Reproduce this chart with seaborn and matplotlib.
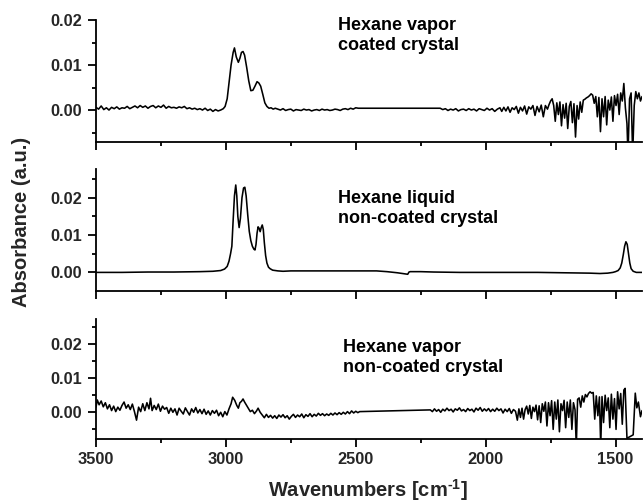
import numpy as np
import pandas as pd
import matplotlib
matplotlib.use("Agg")
import matplotlib.pyplot as plt
from matplotlib.ticker import MultipleLocator, FormatStrFormatter
from matplotlib.transforms import blended_transform_factory
import seaborn as sns

# ---------------- data (absorbance values in units of 1e-3) ----------------
# Panel 1: Hexane vapor, coated crystal
wn_vapor_coated = [
    3500, 3490, 3480, 3470, 3460, 3450, 3440, 3430, 3420, 3410,
    3400, 3390, 3380, 3370, 3360, 3350, 3340, 3330, 3320, 3310,
    3300, 3290, 3280, 3270, 3260, 3250, 3240, 3230, 3220, 3210,
    3200, 3190, 3180, 3170, 3160, 3150, 3140, 3130, 3120, 3110,
    3100, 3090, 3080, 3070, 3060, 3050, 3040, 3030, 3020, 3010,
    3003, 2995, 2988, 2980, 2972, 2967, 2960, 2952, 2946, 2940,
    2934, 2928, 2920, 2912, 2904, 2896, 2888, 2880, 2873, 2866,
    2858, 2850, 2842, 2834, 2826, 2818, 2810,
    2800, 2790, 2780, 2770, 2760, 2750, 2740, 2730, 2720, 2710,
    2700, 2690, 2680, 2670, 2660, 2650, 2640, 2630, 2620, 2610,
    2600, 2590, 2580, 2570, 2560, 2550, 2540, 2530, 2520, 2510,
    2500, 2490, 2483, 2175,
    2165, 2155, 2145, 2135, 2125, 2115, 2105, 2095, 2085, 2075,
    2065, 2055, 2045, 2035, 2025, 2015, 2005, 1995, 1985, 1975,
    1965, 1955, 1945,
    1938, 1930, 1922, 1914, 1906, 1898, 1890, 1882, 1874, 1866,
    1858, 1850, 1842, 1834, 1826, 1818, 1810, 1802, 1794, 1786,
    1778, 1770, 1762,
    1756, 1750, 1744, 1738, 1732, 1726, 1720, 1714, 1708, 1702,
    1696, 1690, 1684, 1678, 1672, 1666, 1660, 1654, 1648, 1642,
    1636, 1630, 1624, 1618, 1612, 1606, 1600, 1594, 1588, 1582,
    1576, 1570, 1564, 1558, 1552, 1546, 1540, 1534, 1528, 1522,
    1516, 1510, 1504, 1498, 1492, 1486, 1480, 1474, 1468, 1462,
    1456, 1452, 1446, 1440, 1434, 1428, 1422, 1416, 1410, 1404,
    1398,
]
abs_vapor_coated = [
    0.6, 0.2, 0.9, 0.1, 0.5, 0.0, 0.6, 0.3, 0.7, 0.2,
    0.5, 0.4, 0.8, 0.3, 0.6, 0.9, 0.5, 1.0, 0.6, 0.9,
    0.4, 0.8, 1.0, 0.5, 0.9, 0.6, 1.1, 0.4, 0.8, 0.5,
    0.6, 0.4, 0.7, 0.5, 0.8, 0.3, 0.5, 0.2, 0.4, 0.1,
    0.3, 0.0, 0.4, -0.1, 0.2, -0.3, 0.1, -0.2, 0.0, 0.3,
    0.8, 2.5, 6.0, 10.0, 12.8, 13.8, 11.8, 10.6, 11.5, 12.8,
    13.0, 12.2, 9.5, 6.5, 4.3, 4.4, 5.3, 6.3, 6.0, 5.3,
    3.5, 1.6, 0.8, 0.4, 0.5, 0.2, 0.4,
    0.2, 0.0, 0.3, -0.1, 0.1, 0.2, -0.2, 0.1, 0.0, -0.1,
    0.2, 0.0, 0.1, -0.2, 0.0, 0.1, -0.1, 0.2, 0.0, 0.1,
    -0.1, 0.0, 0.2, 0.1, -0.1, 0.2, 0.3, 0.1, 0.4, 0.2,
    0.5, 0.4, 0.4, 0.4,
    0.1, 0.3, -0.1, 0.2, 0.0, 0.3, -0.2, 0.1, 0.2, -0.1,
    0.3, 0.0, 0.2, -0.2, 0.3, 0.1, -0.1, 0.4, 0.0, 0.3,
    -0.3, 0.2, 0.5,
    -0.3, 0.6, -0.2, 0.7, -0.5, 0.5, 0.1, 0.8, -0.7, 0.6,
    -0.2, 0.9, -0.9, 0.7, 0.2, 1.0, -1.2, 0.8, -0.4, 1.1,
    -1.5, 1.0, 0.2,
    1.2, 2.0, 2.5, 1.0, -2.5, 1.6, -1.0, 1.8, -3.5, 1.2,
    -1.8, 1.5, -4.1, 0.8, 1.9, -2.8, 1.4, -6.0, 1.0, -2.0,
    1.8, -0.5, 2.2, 2.4, 2.7, 2.9, 3.2, 3.6, 3.3, 1.5,
    3.0, -1.5, 2.8, -4.8, 2.5, -1.5, 3.0, -3.3, 2.2, 0.0,
    2.9, -2.5, 3.2, 1.0, 3.5, -1.0, 3.8, 2.0, 5.9, 0.5,
    -3.0, -10.0, 2.5, 3.8, -10.0, 1.0, 4.1, 2.5, 3.8, 2.0,
    3.0,
]

# Panel 2: Hexane liquid, non-coated crystal
wn_liquid = [
    3500, 3400, 3300, 3200, 3100, 3050, 3020, 3005, 2995, 2988,
    2982, 2977, 2972, 2967, 2962, 2958, 2954, 2949, 2944, 2938,
    2932, 2927, 2922, 2916, 2910, 2904, 2898, 2892, 2888, 2884,
    2880, 2876, 2872, 2868, 2864, 2860, 2856, 2852, 2847, 2842,
    2836, 2830, 2820, 2800, 2780, 2750, 2700, 2600, 2500, 2420,
    2380, 2340, 2310, 2300, 2295, 2290, 2250, 2200, 2100, 2000,
    1900, 1800, 1700, 1600, 1560, 1530, 1510, 1500, 1490, 1482,
    1476, 1470, 1465, 1460, 1455, 1450, 1445, 1440, 1432, 1420,
    1398,
]
abs_liquid = [
    0.0, 0.0, 0.1, 0.1, 0.2, 0.3, 0.5, 0.9, 1.6, 3.0,
    5.0, 7.0, 14.0, 20.5, 23.4, 20.5, 15.0, 12.0, 14.5, 20.0,
    22.6, 22.8, 20.5, 15.5, 11.0, 8.5, 7.0, 6.2, 6.0, 7.5,
    10.5, 12.2, 11.8, 10.9, 12.0, 12.7, 11.5, 8.0, 4.5, 2.5,
    1.4, 1.0, 0.6, 0.4, 0.3, 0.4, 0.4, 0.4, 0.4, 0.4,
    0.2, -0.1, -0.4, -0.5, 0.1, 0.2, 0.2, 0.1, 0.0, 0.0,
    0.0, 0.0, -0.1, -0.2, -0.3, -0.2, 0.0, 0.2, 0.5, 1.2,
    2.5, 4.8, 7.0, 8.2, 7.5, 5.0, 2.5, 1.0, 0.3, 0.0,
    0.0,
]

# Panel 3: Hexane vapor, non-coated crystal
wn_vapor_noncoated = [
    3500, 3495, 3488, 3480, 3472, 3464, 3456, 3448, 3440, 3432,
    3424, 3416, 3408, 3400, 3392, 3384, 3376, 3368, 3360, 3352,
    3344, 3336, 3328, 3320, 3312, 3304, 3296, 3290, 3284, 3276,
    3268, 3260, 3252, 3244, 3236, 3228, 3220, 3212, 3204, 3196,
    3188, 3180, 3172, 3164, 3156, 3148, 3140, 3132, 3124, 3116,
    3108, 3100, 3092, 3084, 3076, 3068, 3060, 3052, 3044, 3036,
    3028, 3020, 3012, 3004, 2996, 2988, 2980, 2974, 2966, 2958,
    2952, 2946, 2940, 2934, 2928, 2920, 2912, 2906, 2898, 2890,
    2882, 2876, 2868, 2860, 2852, 2844, 2836, 2828, 2820, 2812,
    2804, 2796, 2788, 2780, 2772, 2764, 2756, 2748, 2740, 2732,
    2724, 2716, 2708, 2700, 2692, 2684, 2676, 2668, 2660, 2652,
    2644, 2636, 2628, 2620, 2612, 2604, 2596, 2588, 2580, 2572,
    2564, 2556, 2548, 2540, 2532, 2524, 2516, 2508, 2500, 2492,
    2485, 2213,
    2205, 2197, 2189, 2181, 2173, 2165, 2157, 2149, 2141, 2133,
    2125, 2117, 2109, 2101, 2093, 2085, 2077, 2069, 2061, 2053,
    2045, 2037, 2029, 2021, 2013, 2005, 1997, 1989, 1981, 1973,
    1965, 1957, 1949, 1941, 1933, 1925, 1917, 1909, 1901, 1893,
    1885,
    1878, 1872, 1866, 1860, 1854, 1848, 1842, 1836, 1830, 1824,
    1818, 1812, 1806, 1800, 1794,
    1788, 1782, 1776, 1770, 1764, 1758, 1752, 1746, 1740, 1734,
    1728, 1722, 1716, 1710, 1704, 1698, 1692, 1686, 1680, 1674,
    1668, 1662, 1656, 1651, 1646,
    1640, 1634, 1628, 1622, 1616, 1610, 1604, 1598, 1592, 1586,
    1580, 1574, 1568, 1562, 1557, 1552, 1546, 1540, 1534, 1528,
    1522, 1516, 1510, 1504, 1498, 1492, 1486, 1480, 1474, 1468,
    1463, 1456, 1432, 1424, 1418, 1412, 1404, 1398,
]
abs_vapor_noncoated = [
    1.5, 3.6, 2.2, 3.3, 1.6, 2.8, 1.0, 2.2, 0.5, 1.8,
    0.2, 1.5, 0.6, 2.0, 3.0, 1.2, 2.2, 0.8, 2.4, 0.2,
    -2.3, 1.5, 0.2, 2.5, 0.5, 2.8, 1.0, 4.1, 0.5, 2.0,
    0.8, 2.4, 0.3, 1.8, 0.9, 1.4, -0.3, 1.2, 0.0, 1.0,
    -0.8, 1.2, 0.3, -0.5, 1.3, 0.2, -0.8, 1.0, 0.0, 1.4,
    -0.2, 0.8, -0.4, 0.9, -0.6, 0.4, -0.8, 0.5, -0.3, 0.6,
    -1.0, 0.0, -1.3, 0.2, -0.8, 1.0, 2.5, 4.4, 3.5, 2.0,
    1.2, 2.8, 3.2, 3.9, 3.0, 2.0, 1.0, 0.2, 0.6, -0.4,
    0.4, 1.2, 0.0, -0.8, -1.6, -0.6, -1.5, -0.9, -1.7, -1.0,
    -1.8, -0.8, -1.4, -0.7, -1.6, -1.0, -2.0, -1.2, -0.6, -1.5,
    -0.8, -1.3, -0.5, -1.6, -0.7, -1.2, -0.4, -1.3, -0.6, -1.1,
    -0.3, -0.9, -0.4, -1.0, -0.5, -0.9, -0.3, -0.8, -0.2, -0.7,
    -0.1, -0.6, 0.0, -0.5, 0.2, -0.4, 0.4, -0.2, 0.3, -0.1,
    0.2, 0.7,
    0.2, 1.0, 0.3, 0.8, 0.0, 0.9, 0.4, 1.2, 0.5, 0.9,
    0.1, 1.0, 0.6, 1.3, 0.4, 0.8, 0.2, 1.1, 0.5, 0.9,
    0.1, 1.2, 0.6, 1.4, 0.3, 1.0, 0.4, 1.1, 0.2, 0.9,
    0.3, 1.2, 0.5, 1.0, -0.2, 0.9, 0.2, 1.1, -0.3, 0.8,
    0.3,
    -2.3, 1.0, -1.5, 1.2, -2.0, 0.8, 1.8, -0.5, 2.0, -1.8,
    1.5, 0.2, 2.1, -2.2, 1.9,
    -3.0, 2.5, 0.3, 3.0, -4.0, 2.8, -1.0, 3.4, -5.0, 3.0,
    -2.0, 3.6, -5.7, 2.5, 0.5, 3.5, -4.5, 3.0, -1.5, 3.6,
    -5.0, 2.8, 0.8, -10.0, 3.8,
    4.2, 1.5, 4.8, 3.0, 5.2, 4.5, 5.5, 6.0, 5.6, 5.8,
    -2.0, 4.8, -1.0, 4.5, -10.0, 4.6, -3.0, 5.0, 0.5, 4.2,
    -4.5, 5.3, -2.0, 4.0, -5.0, 6.0, 1.0, 5.5, -3.5, 6.5,
    7.0, -7.6, -6.6, 5.6, 1.3, 3.0, -1.3, 0.5,
]

panel_labels = [
    "Hexane vapor\ncoated crystal",
    "Hexane liquid\nnon-coated crystal",
    "Hexane vapor\nnon-coated crystal",
]

# ---------------- style ----------------
sns.set_style("ticks")
plt.rcParams['font.family'] = ['Liberation Sans', 'DejaVu Sans']
plt.rcParams['font.weight'] = 'bold'
plt.rcParams['mathtext.fontset'] = 'custom'
plt.rcParams['mathtext.rm'] = 'Liberation Sans:bold'
plt.rcParams['mathtext.it'] = 'Liberation Sans:bold'
plt.rcParams['mathtext.bf'] = 'Liberation Sans:bold'
plt.rcParams['mathtext.default'] = 'rm'

W, H = 643, 503
fig = plt.figure(figsize=(W / 100, H / 100), dpi=100)


def rect(top_px, bot_px, left_px=96.0, right_px=641.5):
    return [left_px / W, 1 - bot_px / H, (right_px - left_px) / W, (bot_px - top_px) / H]


panels = [
    (wn_vapor_coated, abs_vapor_coated, rect(20, 142), (-0.0071, 0.020), 2568, 1.022),
    (wn_liquid, abs_liquid, rect(169.3, 290.7), (-0.0049, 0.0276), 2568, 0.830),
    (wn_vapor_noncoated, abs_vapor_noncoated, rect(319.3, 439.3), (-0.0079, 0.0272), 2550, 0.833),
]

for i, (wn, ab, r, ylim, tx, ty) in enumerate(panels):
    ax = fig.add_axes(r)
    df = pd.DataFrame({"wavenumber": wn, "absorbance": np.array(ab) * 1e-3})
    sns.lineplot(data=df, x="wavenumber", y="absorbance", ax=ax, color="black",
                 lw=1.15, sort=False, estimator=None)
    ax.set_xlim(3500, 1400)
    ax.set_ylim(*ylim)
    ax.set_xlabel("")
    ax.set_ylabel("")
    ax.xaxis.set_major_locator(MultipleLocator(500))
    ax.xaxis.set_minor_locator(MultipleLocator(250))
    ax.yaxis.set_major_locator(MultipleLocator(0.01))
    ax.yaxis.set_minor_locator(MultipleLocator(0.005))
    ax.yaxis.set_major_formatter(FormatStrFormatter('%.2f'))
    for s in ["top", "right"]:
        ax.spines[s].set_visible(False)
    for s in ["left", "bottom"]:
        ax.spines[s].set_linewidth(1.3)
        ax.spines[s].set_color("black")
    ax.tick_params(which="major", direction="out", length=5.5, width=1.3,
                   labelsize=11.8, color="black")
    ax.tick_params(which="minor", direction="out", length=3.1, width=1.3, color="black")
    ax.tick_params(axis="y", which="major", pad=4.5)
    ax.tick_params(axis="x", which="major", pad=3.5)
    for lab in ax.get_xticklabels() + ax.get_yticklabels():
        lab.set_fontweight("bold")
    if i < 2:
        ax.tick_params(labelbottom=False)
    trans = blended_transform_factory(ax.transData, ax.transAxes)
    ax.text(tx, ty, panel_labels[i], transform=trans, ha="left", va="top",
            fontsize=13, fontweight="bold", color="black")
    ax.set_facecolor("white")

fig.text(21.3 / W, 1 - 222 / H, "Absorbance (a.u.)", rotation=90, ha="center",
         va="center", fontsize=14.5, fontweight="bold")
fig.text(367.5 / W, 1 - 497 / H, r"Wavenumbers [cm$^{\text{-}1}$]", ha="center",
         va="baseline", fontsize=14.5, fontweight="bold")

fig.savefig("out.png", dpi=100, facecolor="white")
